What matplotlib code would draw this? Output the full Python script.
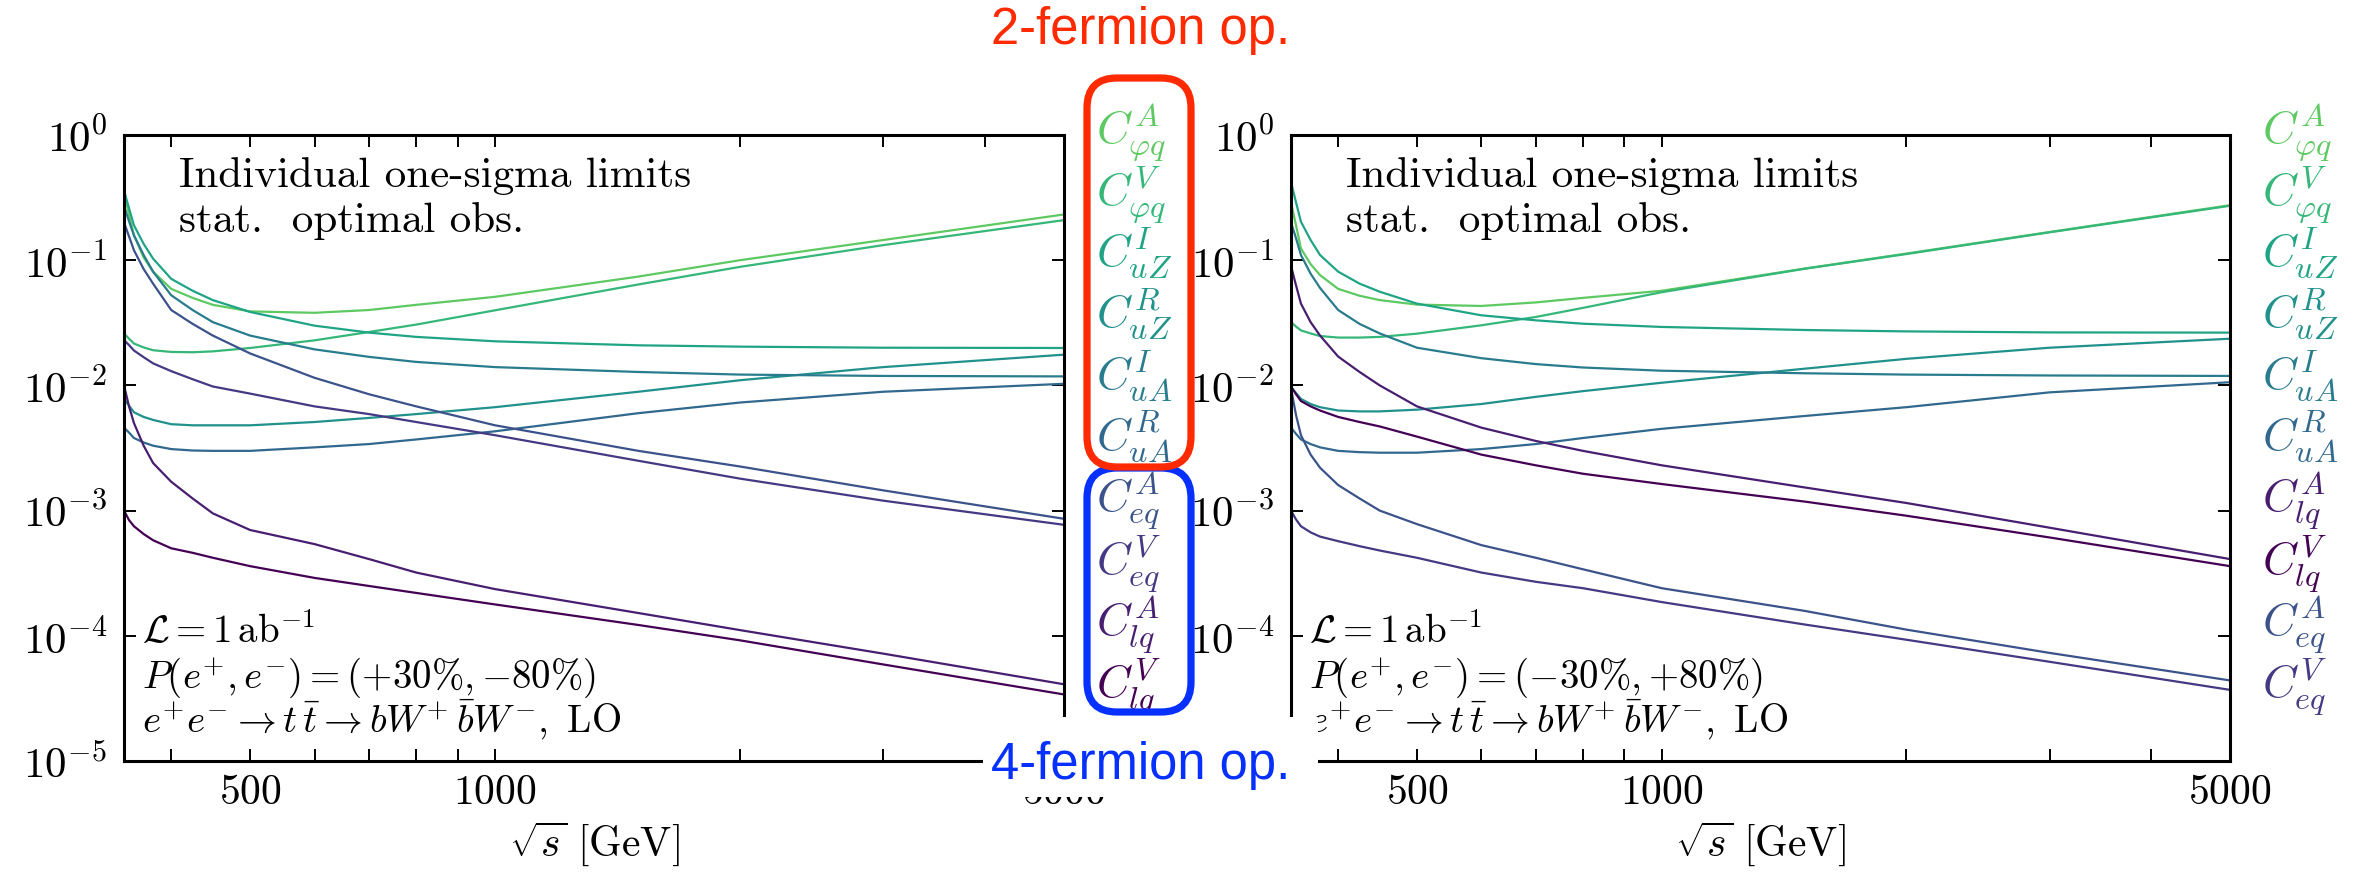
"""Individual one-sigma limits on top-quark EFT operators vs sqrt(s), two beam polarisations."""
import matplotlib as mpl
import matplotlib.pyplot as plt
import numpy as np
from matplotlib.patches import FancyBboxPatch, Rectangle
from matplotlib.ticker import NullFormatter, NullLocator
from matplotlib.transforms import IdentityTransform

mpl.rcParams.update({
    "mathtext.fontset": "cm",
    "font.family": "serif",
    "font.serif": ["cmr10", "DejaVu Serif"],
    "axes.formatter.use_mathtext": True,
})

W, H = 2355, 873

# sqrt(s) sample points [GeV]
SQRT_S = [350, 355, 360, 370, 380, 400, 425, 450, 500, 600, 700, 800, 1000, 1500, 2000, 3000, 5000]

# left panel: P(e+, e-) = (+30%, -80%)
L_phiq_A = [0.35, 0.23, 0.158, 0.105, 0.081, 0.059, 0.050, 0.044, 0.039, 0.038, 0.040, 0.044, 0.051, 0.074, 0.100, 0.145, 0.232]
L_phiq_V = [0.026, 0.0236, 0.0216, 0.0201, 0.0191, 0.0185, 0.0184, 0.0187, 0.0199, 0.0229, 0.0267, 0.0306, 0.0398, 0.064, 0.0885, 0.132, 0.209]
L_uZ_I = [0.36, 0.26, 0.19, 0.135, 0.103, 0.071, 0.057, 0.048, 0.0386, 0.030, 0.0264, 0.0244, 0.0225, 0.0209, 0.0204, 0.0200, 0.0199]
L_uZ_R = [0.0078, 0.0069, 0.0061, 0.0056, 0.0053, 0.0049, 0.0048, 0.0048, 0.0048, 0.0051, 0.0055, 0.0059, 0.0067, 0.0089, 0.011, 0.014, 0.0176]
L_uA_I = [0.27, 0.205, 0.158, 0.11, 0.081, 0.0525, 0.040, 0.032, 0.025, 0.0194, 0.0169, 0.0154, 0.014, 0.0128, 0.0122, 0.0119, 0.0118]
L_uA_R = [0.0046, 0.0042, 0.0038, 0.0035, 0.0033, 0.0031, 0.00302, 0.0030, 0.0030, 0.0032, 0.0034, 0.0037, 0.0043, 0.0060, 0.0073, 0.0089, 0.0103]
L_eq_A = [0.2, 0.155, 0.12, 0.085, 0.065, 0.040, 0.031, 0.025, 0.018, 0.0115, 0.0085, 0.0068, 0.0048, 0.0030, 0.00225, 0.00145, 0.00086]
L_eq_V = [0.023, 0.021, 0.019, 0.0168, 0.015, 0.013, 0.0112, 0.0098, 0.0086, 0.0068, 0.0059, 0.0051, 0.0040, 0.0025, 0.0018, 0.0012, 0.00077]
L_lq_A = [0.0100, 0.0068, 0.0050, 0.0033, 0.0024, 0.0017, 0.00125, 0.00095, 0.0007, 0.00054, 0.00041, 0.00032, 0.000236, 0.000152, 0.000111, 0.000072, 0.000041]
L_lq_V = [0.00100, 0.00084, 0.00075, 0.00065, 0.00058, 0.00050, 0.00046, 0.00042, 0.00036, 0.00029, 0.00025, 0.00022, 0.000178, 0.000122, 0.000092, 0.000059, 0.000034]

# right panel: P(e+, e-) = (-30%, +80%)
R_phiq_A = [0.29, 0.19, 0.124, 0.093, 0.076, 0.059, 0.052, 0.048, 0.0442, 0.0431, 0.046, 0.050, 0.057, 0.0858, 0.113, 0.168, 0.275]
R_phiq_V = [0.032, 0.0295, 0.0275, 0.026, 0.0248, 0.0241, 0.0241, 0.0244, 0.0259, 0.0302, 0.0352, 0.0416, 0.0555, 0.0855, 0.112, 0.167, 0.272]
R_uZ_I = [0.42, 0.29, 0.203, 0.145, 0.11, 0.081, 0.065, 0.056, 0.045, 0.0363, 0.0331, 0.0311, 0.0293, 0.0277, 0.027, 0.0265, 0.0264]
R_uZ_R = [0.0097, 0.0087, 0.0078, 0.0071, 0.0067, 0.0063, 0.0062, 0.0062, 0.0064, 0.0071, 0.0081, 0.0090, 0.0105, 0.0136, 0.0163, 0.020, 0.0236]
R_uA_I = [0.2, 0.15, 0.11, 0.078, 0.06, 0.040, 0.031, 0.026, 0.020, 0.0165, 0.0148, 0.0139, 0.0131, 0.0125, 0.0122, 0.0120, 0.0119]
R_uA_R = [0.0046, 0.0041, 0.0037, 0.0034, 0.0032, 0.0030, 0.00293, 0.0029, 0.0029, 0.0031, 0.0034, 0.0038, 0.0045, 0.0057, 0.0067, 0.0088, 0.0106]
R_lq_A = [0.090, 0.063, 0.045, 0.032, 0.025, 0.017, 0.0128, 0.0100, 0.0068, 0.0046, 0.0036, 0.0030, 0.0023, 0.00153, 0.00115, 0.00073, 0.00041]
R_lq_V = [0.0098, 0.0085, 0.0075, 0.0068, 0.0063, 0.0056, 0.0051, 0.0047, 0.0039, 0.0028, 0.0023, 0.00197, 0.00163, 0.00118, 0.00091, 0.00061, 0.00036]
R_eq_A = [0.0095, 0.0058, 0.0040, 0.0028, 0.0022, 0.0016, 0.00125, 0.0010, 0.00078, 0.00053, 0.00042, 0.00034, 0.00024, 0.000158, 0.000112, 0.000073, 0.000044]
R_eq_V = [0.00100, 0.00085, 0.00075, 0.00067, 0.00062, 0.00057, 0.00052, 0.00048, 0.00042, 0.00032, 0.00027, 0.00024, 0.000186, 0.000123, 0.000093, 0.000062, 0.000037]

OPS = ["phiq_A", "phiq_V", "uZ_I", "uZ_R", "uA_I", "uA_R", "eq_A", "eq_V", "lq_A", "lq_V"]
OP_TEX = {
    "phiq_A": r"$C^{A}_{\varphi q}$", "phiq_V": r"$C^{V}_{\varphi q}$",
    "uZ_I": r"$C^{I}_{uZ}$", "uZ_R": r"$C^{R}_{uZ}$",
    "uA_I": r"$C^{I}_{uA}$", "uA_R": r"$C^{R}_{uA}$",
    "eq_A": r"$C^{A}_{eq}$", "eq_V": r"$C^{V}_{eq}$",
    "lq_A": r"$C^{A}_{lq}$", "lq_V": r"$C^{V}_{lq}$",
}
LEFT = dict(zip(OPS, [L_phiq_A, L_phiq_V, L_uZ_I, L_uZ_R, L_uA_I, L_uA_R, L_eq_A, L_eq_V, L_lq_A, L_lq_V]))
RIGHT = dict(zip(OPS, [R_phiq_A, R_phiq_V, R_uZ_I, R_uZ_R, R_uA_I, R_uA_R, R_eq_A, R_eq_V, R_lq_A, R_lq_V]))
LEFT_ORDER = OPS
RIGHT_ORDER = ["phiq_A", "phiq_V", "uZ_I", "uZ_R", "uA_I", "uA_R", "lq_A", "lq_V", "eq_A", "eq_V"]
POL_LEFT = r"$P(e^{+},e^{-}) = ({+}30\%, {-}80\%)$"
POL_RIGHT = r"$P(e^{+},e^{-}) = ({-}30\%, {+}80\%)$"

XTICKS = [500, 1000, 5000]
XMINOR = [400, 600, 700, 800, 900, 2000, 3000, 4000]
YTICKS = [1e-5, 1e-4, 1e-3, 1e-2, 1e-1, 1]
YLABELS = [r"$10^{-5}$", r"$10^{-4}$", r"$10^{-3}$", r"$10^{-2}$", r"$10^{-1}$", r"$10^{0}$"]

COLORS = dict(zip(OPS, plt.cm.viridis(np.linspace(0.75, 0.0, len(OPS)))))
RED = "#ff2a00"
BLUE = "#0530ff"

fig = plt.figure(figsize=(W / 100, H / 100), dpi=100)


def px_axes(x0, x1, y0, y1):
    # pixel box measured from the top-left corner of the image
    return fig.add_axes([x0 / W, 1 - y1 / H, (x1 - x0) / W, (y1 - y0) / H])


def panel(ax, data, pol):
    for op in OPS:
        ax.plot(SQRT_S, data[op], color=COLORS[op], lw=1.6)
    ax.set_xscale("log")
    ax.set_yscale("log")
    ax.set_xlim(350, 5000)
    ax.set_ylim(1e-5, 1)
    ax.set_xticks(XTICKS, [f"${t}$" for t in XTICKS])
    ax.set_xticks(XMINOR, minor=True)
    ax.xaxis.set_minor_formatter(NullFormatter())
    ax.set_yticks(YTICKS, YLABELS)
    ax.yaxis.set_minor_locator(NullLocator())
    ax.tick_params(which="both", direction="in", top=True, right=True,
                   length=8.5, width=1.4)
    ax.tick_params(axis="x", pad=10, labelsize=30)
    ax.tick_params(axis="y", pad=12, labelsize=31)
    for s in ax.spines.values():
        s.set_linewidth(2.2)
    ax.set_xlabel(r"$\sqrt{s}\ [\mathrm{GeV}]$", fontsize=30, labelpad=5)

    ax.text(0.0585, 0.917, "Individual one-sigma limits", transform=ax.transAxes,
            fontsize=31, va="baseline", ha="left")
    ax.text(0.0585, 0.845, "stat.  optimal obs.", transform=ax.transAxes,
            fontsize=31, va="baseline", ha="left")
    ax.text(0.019, 0.1885, r"$\mathcal{L} = 1\,\mathrm{ab}^{-1}$", transform=ax.transAxes,
            fontsize=28, va="baseline", ha="left")
    ax.text(0.019, 0.1166, pol, transform=ax.transAxes, fontsize=28, va="baseline", ha="left")
    ax.text(0.019, 0.0463, r"$e^{+}e^{-} \to t\,\bar{t} \to bW^{+}\,\bar{b}W^{-},\ \mathrm{LO}$",
            transform=ax.transAxes, fontsize=28, va="baseline", ha="left")


ax_l = px_axes(124, 1064, 135, 761)
ax_r = px_axes(1291, 2230, 135, 761)
panel(ax_l, LEFT, POL_LEFT)
panel(ax_r, RIGHT, POL_RIGHT)

# operator labels next to each panel
for x0, order in ((1096, LEFT_ORDER), (2262, RIGHT_ORDER)):
    for i, op in enumerate(order):
        fig.text(x0 / W, 1 - (142 + 61.8 * i) / H, OP_TEX[op], color=COLORS[op],
                 fontsize=33, ha="left", va="baseline")

# annotation boxes (pixel coordinates, origin bottom-left)
ident = IdentityTransform()
blue_box = FancyBboxPatch((1087, H - 712), 104, 244, boxstyle="round,pad=0,rounding_size=30",
                          fill=False, ec=BLUE, lw=5.2, transform=ident, zorder=10)
red_box = FancyBboxPatch((1087, H - 467), 104, 389, boxstyle="round,pad=0,rounding_size=30",
                         fill=False, ec=RED, lw=5.2, transform=ident, zorder=11)
fig.patches.extend([blue_box, red_box])
fig.patches.append(Rectangle((983, H - 797), 335, 80, fc="white", ec="none",
                             transform=ident, zorder=12))

fig.text(1141 / W, 1 - 44 / H, "2-fermion op.", color=RED, fontsize=36.5,
         family="Liberation Sans", ha="center", va="baseline", zorder=13)
fig.text(1141 / W, 1 - 779 / H, "4-fermion op.", color=BLUE, fontsize=36.5,
         family="Liberation Sans", ha="center", va="baseline", zorder=13)

fig.savefig("out.png", dpi=100)
